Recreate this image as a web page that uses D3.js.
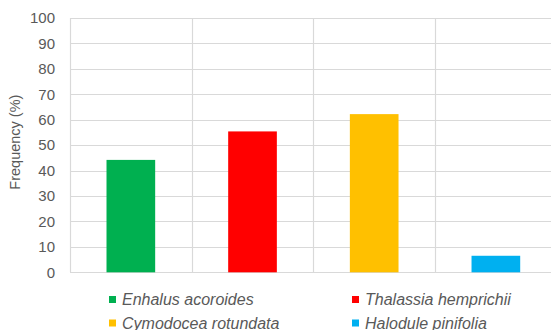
<!DOCTYPE html>
<html>
<head>
<meta charset="utf-8">
<script src="https://cdn.jsdelivr.net/npm/d3@7"></script>
<style>
  body { margin: 0; background: #fff; }
  text { font-family: "Liberation Sans", Arial, sans-serif; fill: #595959; }
</style>
</head>
<body>
<div id="chart-area"></div>
<script>
/* Data */
var species = ["Enhalus acoroides", "Thalassia hemprichii", "Cymodocea rotundata", "Halodule pinifolia"];
var frequency = [44.2, 55.4, 62.2, 6.5];
var colors = ["#00B050", "#FF0000", "#FFC000", "#00B0F0"];
var yTicks = [0, 10, 20, 30, 40, 50, 60, 70, 80, 90, 100];

/* Size and margins */
var W = 551, H = 330;
var margin = { left: 70, top: 18 };
var plotRight = 556.7, plotBottom = 272.3;

var svg = d3.select("#chart-area").append("svg")
  .attr("width", W)
  .attr("height", H);

/* Scales */
var x = d3.scaleBand()
  .domain(species)
  .range([margin.left, plotRight])
  .paddingInner(0.6)
  .paddingOuter(0.3);

var y = d3.scaleLinear()
  .domain([0, 100])
  .range([plotBottom, margin.top]);

/* Gridlines */
svg.append("g")
  .selectAll("line")
  .data(yTicks)
  .enter()
  .append("line")
    .attr("x1", margin.left)
    .attr("x2", plotRight)
    .attr("y1", (d)=>{return Math.round(y(d)) + 0.5})
    .attr("y2", (d)=>{return Math.round(y(d)) + 0.5})
    .attr("stroke", "#d9d9d9")
    .attr("stroke-width", 1.2);

// vertical lines between categories
var step = x.step();
var bounds = d3.range(species.length + 1).map((i)=>{return margin.left + i * step});
svg.append("g")
  .selectAll("line")
  .data(bounds)
  .enter()
  .append("line")
    .attr("x1", (d)=>{return Math.round(d) + 0.5})
    .attr("x2", (d)=>{return Math.round(d) + 0.5})
    .attr("y1", y(100))
    .attr("y2", y(0))
    .attr("stroke", "#d9d9d9")
    .attr("stroke-width", 1.2);

/* Y axis */
var yAxisCall = d3.axisLeft(y).tickValues(yTicks).tickSize(0).tickPadding(15);
var yAxis = svg.append("g")
  .attr("transform", "translate(" + margin.left + ",0)")
  .call(yAxisCall);
yAxis.select(".domain").remove();
yAxis.selectAll("text")
  .attr("font-size", "15px")
  .attr("font-family", "Liberation Sans, Arial, sans-serif")
  .attr("fill", "#595959");

// Y label
svg.append("text")
  .attr("x", -((margin.top + plotBottom) / 2) + 3)
  .attr("y", 20)
  .attr("font-size", "14.5px")
  .attr("text-anchor", "middle")
  .attr("transform", "rotate(-90)")
  .text("Frequency (%)");

/* Bars */
svg.append("g")
  .selectAll("rect")
  .data(frequency)
  .enter()
  .append("rect")
    .attr("x", (d, i)=>{return x(species[i])})
    .attr("y", (d)=>{return y(d)})
    .attr("width", x.bandwidth())
    .attr("height", (d)=>{return y(0) - y(d)})
    .attr("fill", (d, i)=>{return colors[i]});

/* Legend */
var legendX = [109, 352];
var legendY = [299.5, 323];
var legend = svg.append("g")
  .selectAll("g")
  .data(species)
  .enter()
  .append("g")
    .attr("transform", (d, i)=>{return "translate(" + legendX[i % 2] + "," + legendY[Math.floor(i / 2)] + ")"});

legend.append("rect")
  .attr("x", 0)
  .attr("y", -3.5)
  .attr("width", 7)
  .attr("height", 7)
  .attr("fill", (d, i)=>{return colors[i]});

legend.append("text")
  .attr("x", 13)
  .attr("y", 5.5)
  .attr("font-size", "16px")
  .attr("font-style", "italic")
  .text((d)=>{return d});
</script>
</body>
</html>
